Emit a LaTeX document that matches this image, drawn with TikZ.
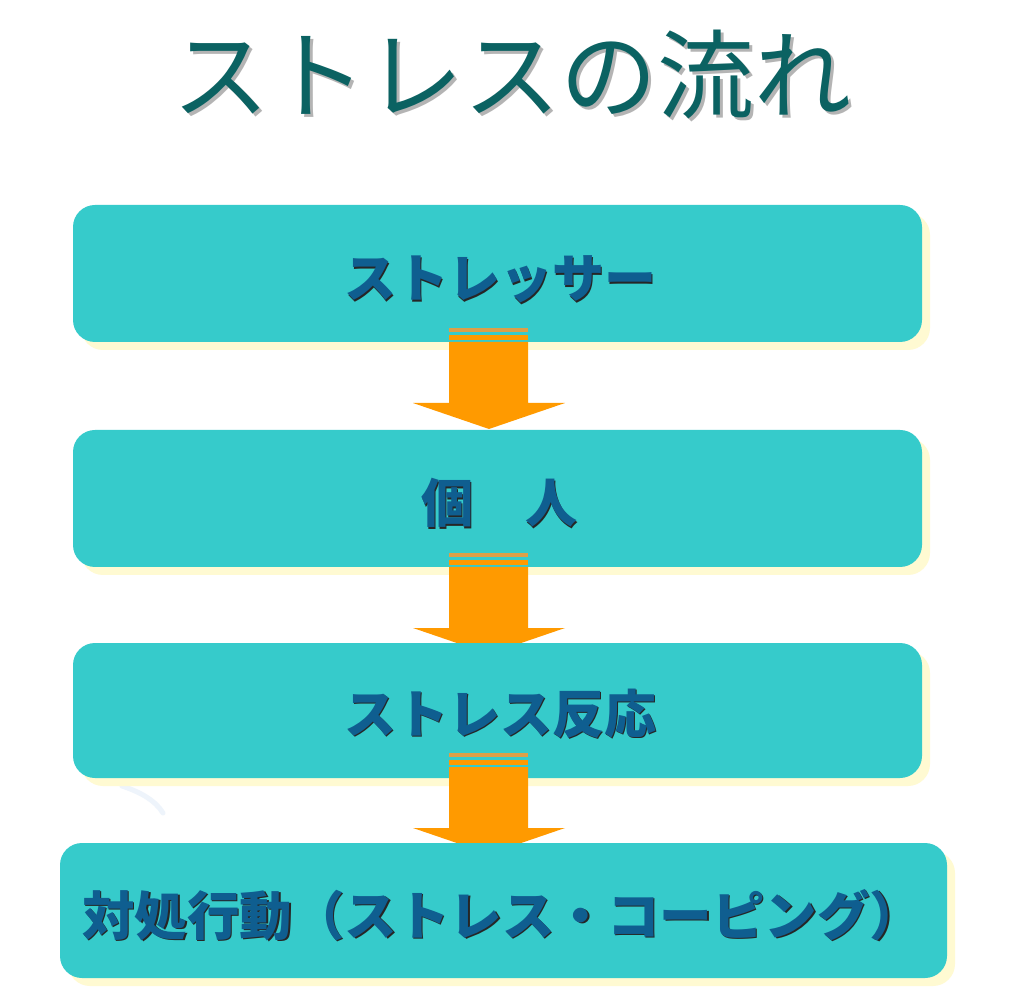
\documentclass[tikz,border=0pt]{standalone}
\usepackage{fontspec}
\newfontfamily\jp{Noto Sans CJK JP}
\definecolor{boxfill}{HTML}{36CBCB}
\definecolor{boxshadow}{HTML}{FFFAD2}
\definecolor{arroworange}{HTML}{FF9A00}
\definecolor{stripetan}{HTML}{DDA048}
\definecolor{txtblue}{HTML}{0F5E90}
\definecolor{titleteal}{HTML}{0B6262}
\definecolor{titleshadow}{HTML}{B4B4B4}
\definecolor{faintblue}{HTML}{EEF4FB}
\tikzset{
  x=1pt,y=1pt,
  flowbox/.style={fill=boxfill,draw=none,rounded corners=22pt},
  flowshadow/.style={fill=boxshadow,draw=none,rounded corners=22pt},
  boxtext/.style={font=\jp\bfseries\fontsize{52}{52}\selectfont,text=txtblue,inner sep=0pt,anchor=base},
  boxtextshadow/.style={font=\jp\bfseries\fontsize{52}{52}\selectfont,text=black!85,inner sep=0pt,anchor=base},
  arrowbody/.style={fill=arroworange,draw=none},
  stripe/.style={fill=stripetan,draw=none},
}
\newcommand{\flowarrow}[2]{% #1 = top y (image), #2 = name
  \fill[stripe] (449,999-#1) rectangle (528,999-#1-4);
  \fill[arrowbody] (449,999-#1-7) rectangle (528,999-#1-12);
  \fill[arrowbody] (449,999-#1-14) -- (528,999-#1-14) -- (528,999-#1-75) -- (565,999-#1-75)
     -- (489,999-#1-101) -- (413,999-#1-75) -- (449,999-#1-75) -- cycle;
  \coordinate (#2) at (489,999-#1-101);
}
\begin{document}
\begin{tikzpicture}
\useasboundingbox (0,0) rectangle (1024,999);
\fill[white] (0,0) rectangle (1024,999);
% title
\node[font=\jp\fontsize{97}{97}\selectfont,text=titleshadow,inner sep=0pt,anchor=base] at (515,884) {ストレスの流れ};
\node (title) [font=\jp\fontsize{97}{97}\selectfont,text=titleteal,inner sep=0pt,anchor=base] at (512,887) {ストレスの流れ};
% faint decoration
\draw[faintblue,line width=5pt,line cap=round] (122,999-786) .. controls (140,999-792) and (155,999-800) .. (163,999-813);
% box 1
\fill[flowshadow] (81,999-213) rectangle (930,999-350);
\fill[flowbox] (73,999-205) rectangle (922,999-342);
\coordinate (b1) at (497,999-273);
\node[boxtextshadow] at (501.5,699.5) {ストレッサー};
\node (t1) [boxtext] at (500,701) {ストレッサー};
\flowarrow{328}{a1}
% box 2
\fill[flowshadow] (81,999-438) rectangle (930,999-575);
\fill[flowbox] (73,999-430) rectangle (922,999-567);
\node[boxtextshadow] at (500.5,474.5) {個　人};
\node (t2) [boxtext] at (499,476) {個　人};
\flowarrow{553}{a2}
% box 3
\fill[flowshadow] (81,999-651) rectangle (930,999-786);
\fill[flowbox] (73,999-643) rectangle (922,999-778);
\node[boxtextshadow] at (501.5,264.5) {ストレス反応};
\node (t3) [boxtext] at (500,266) {ストレス反応};
\flowarrow{753}{a3}
% box 4
\fill[flowshadow] (68,999-851) rectangle (955,999-986);
\fill[flowbox] (60,999-843) rectangle (947,999-978);
\node[boxtextshadow,anchor=base west,font=\jp\bfseries\fontsize{52.5}{52.5}\selectfont] at (83.5,62.5) {対処行動（ストレス・コーピング）};
\node (t4) [boxtext,anchor=base west,font=\jp\bfseries\fontsize{52.5}{52.5}\selectfont] at (82,64) {対処行動（ストレス・コーピング）};
\end{tikzpicture}
\end{document}
